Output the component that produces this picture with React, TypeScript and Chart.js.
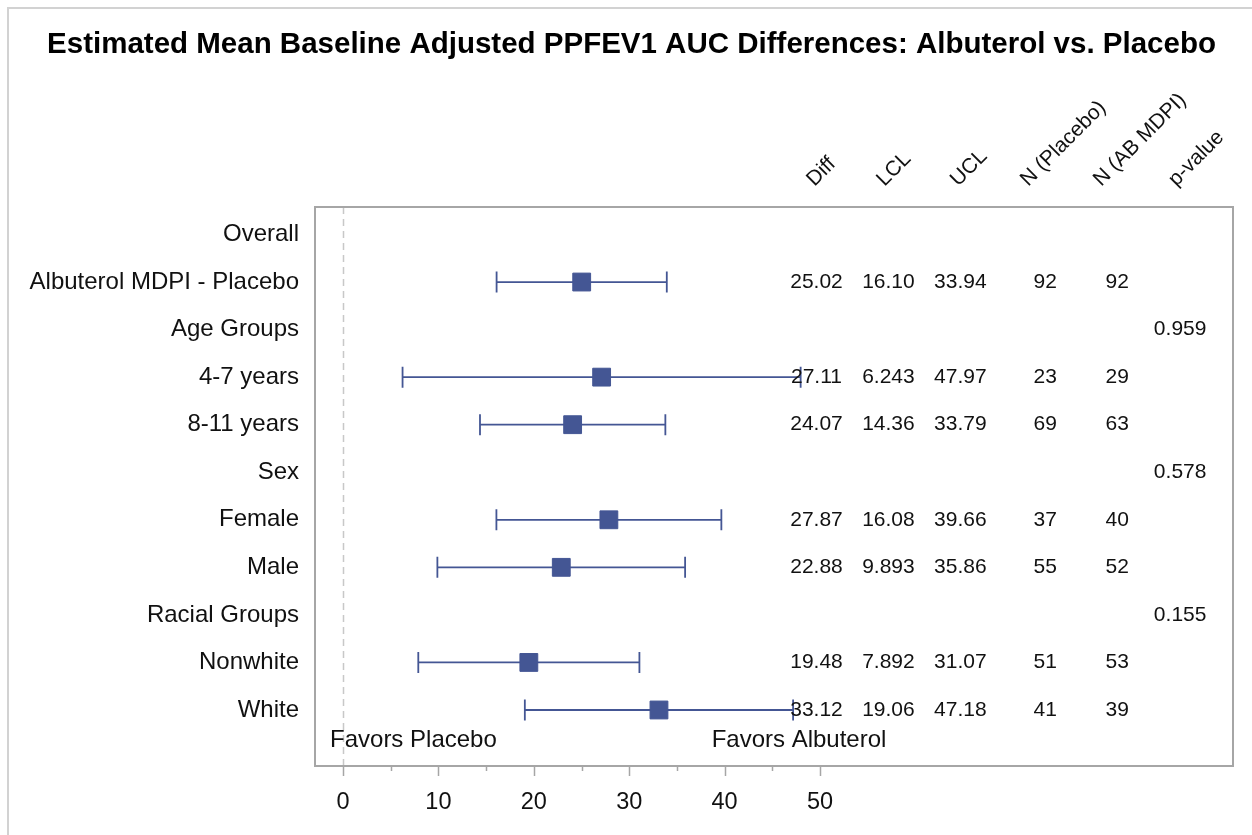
import React, { useEffect, useRef } from 'react';
import { Chart, registerables } from 'chart.js';

Chart.register(...registerables);

// ---------------- data ----------------
const TITLE = 'Estimated Mean Baseline Adjusted PPFEV1 AUC Differences: Albuterol vs. Placebo';
const rowLabels = [
  'Overall',
  'Albuterol MDPI - Placebo',
  'Age Groups',
  '4-7 years',
  '8-11 years',
  'Sex',
  'Female',
  'Male',
  'Racial Groups',
  'Nonwhite',
  'White',
];
const diff = [null, 25.02, null, 27.11, 24.07, null, 27.87, 22.88, null, 19.48, 33.12];
const lcl = [null, 16.1, null, 6.243, 14.36, null, 16.08, 9.893, null, 7.892, 19.06];
const ucl = [null, 33.94, null, 47.97, 33.79, null, 39.66, 35.86, null, 31.07, 47.18];
const nPlacebo = [null, 92, null, 23, 69, null, 37, 55, null, 51, 41];
const nAB = [null, 92, null, 29, 63, null, 40, 52, null, 53, 39];
const pValues = ['', '', '0.959', '', '', '0.578', '', '', '0.155', '', ''];
const columnHeaders = ['Diff', 'LCL', 'UCL', 'N (Placebo)', 'N (AB MDPI)', 'p-value'];
const xTicks = [0, 10, 20, 30, 40, 50];
const xMinorTicks = [5, 15, 25, 35, 45];
const favorsLabels = ['Favors Placebo', 'Favors Albuterol'];

// ---------------- layout / style ----------------
const FONT = '"Liberation Sans", Arial, Helvetica, sans-serif';
const W = 1252;
const H = 835;
const X_MIN = -2.935;
const X_MAX = 93.29;
const Y_MIN = -0.578;
const Y_MAX = 11.178;
const COL_CENTER = [49.63, 57.17, 64.71, 73.61, 81.15, 87.75];
const HEADER_X = [49.42, 56.75, 64.5, 71.83, 79.48, 87.33];
const HEADER_Y = -1.0;
const FAVORS_X = [-1.36, 38.64];
const FAVORS_Y = 10.63;
const BLUE = '#445694';
const TEXT = '#111111';

const fmt4 = (v: number | null) => (v == null ? '' : Number(v).toPrecision(4));
const fmtN = (v: number | null) => (v == null ? '' : String(v));

const tableColumns: string[][] = [
  diff.map(fmt4),
  lcl.map(fmt4),
  ucl.map(fmt4),
  nPlacebo.map(fmtN),
  nAB.map(fmtN),
  pValues,
];

const forestPlugin = {
  id: 'forestPlugin',
  beforeDraw(chart: any) {
    const ctx = chart.ctx;
    ctx.save();
    ctx.fillStyle = '#ffffff';
    ctx.fillRect(0, 0, chart.width, chart.height);
    // outer frame (top/left visible)
    ctx.strokeStyle = '#d2d2d2';
    ctx.lineWidth = 2;
    ctx.beginPath();
    ctx.moveTo(8, chart.height);
    ctx.lineTo(8, 8);
    ctx.lineTo(chart.width, 8);
    ctx.stroke();
    ctx.restore();
  },
  beforeDatasetsDraw(chart: any) {
    const ctx = chart.ctx;
    const xs = chart.scales.x;
    const ys = chart.scales.y;
    const area = chart.chartArea;
    ctx.save();
    // reference line at 0
    ctx.strokeStyle = '#c8c8c8';
    ctx.lineWidth = 1.5;
    ctx.setLineDash([7, 5]);
    const x0 = Math.round(xs.getPixelForValue(0)) + 0.5;
    ctx.beginPath();
    ctx.moveTo(x0, area.top);
    ctx.lineTo(x0, area.bottom);
    ctx.stroke();
    ctx.setLineDash([]);
    // error bars
    ctx.strokeStyle = BLUE;
    ctx.lineWidth = 1.8;
    for (let i = 0; i < rowLabels.length; i++) {
      if (lcl[i] == null || ucl[i] == null) continue;
      const y = ys.getPixelForValue(i);
      const xl = xs.getPixelForValue(lcl[i]);
      const xu = xs.getPixelForValue(ucl[i]);
      ctx.beginPath();
      ctx.moveTo(xl, y);
      ctx.lineTo(xu, y);
      ctx.moveTo(xl, y - 10.5);
      ctx.lineTo(xl, y + 10.5);
      ctx.moveTo(xu, y - 10.5);
      ctx.lineTo(xu, y + 10.5);
      ctx.stroke();
    }
    ctx.restore();
  },
  afterDraw(chart: any) {
    const ctx = chart.ctx;
    const xs = chart.scales.x;
    const ys = chart.scales.y;
    const area = chart.chartArea;
    ctx.save();
    // plot box
    ctx.strokeStyle = '#a6a6a6';
    ctx.lineWidth = 2;
    ctx.strokeRect(area.left, area.top, area.right - area.left, area.bottom - area.top);
    // x ticks
    ctx.strokeStyle = '#a6a6a6';
    ctx.lineWidth = 1.5;
    ctx.beginPath();
    for (const v of xTicks) {
      const x = Math.round(xs.getPixelForValue(v)) + 0.5;
      ctx.moveTo(x, area.bottom);
      ctx.lineTo(x, area.bottom + 10);
    }
    for (const v of xMinorTicks) {
      const x = Math.round(xs.getPixelForValue(v)) + 0.5;
      ctx.moveTo(x, area.bottom);
      ctx.lineTo(x, area.bottom + 5);
    }
    ctx.stroke();

    // title
    ctx.fillStyle = '#000000';
    ctx.font = `bold 29.5px ${FONT}`;
    ctx.textAlign = 'center';
    ctx.textBaseline = 'alphabetic';
    ctx.fillText(TITLE, 631.5, 53);

    // column headers (rotated)
    ctx.fillStyle = TEXT;
    ctx.font = `21px ${FONT}`;
    ctx.textAlign = 'left';
    ctx.textBaseline = 'alphabetic';
    columnHeaders.forEach((h, c) => {
      const x = xs.getPixelForValue(HEADER_X[c]);
      const y = ys.getPixelForValue(HEADER_Y);
      ctx.save();
      ctx.translate(x, y);
      ctx.rotate(-Math.PI / 4);
      ctx.fillText(h, 0, 0);
      ctx.restore();
    });

    // table values
    ctx.font = `21px ${FONT}`;
    ctx.textAlign = 'center';
    ctx.textBaseline = 'middle';
    tableColumns.forEach((col, c) => {
      const x = xs.getPixelForValue(COL_CENTER[c]);
      col.forEach((txt, i) => {
        if (!txt) return;
        ctx.fillText(txt, x, ys.getPixelForValue(i));
      });
    });

    // favors labels
    ctx.font = `24px ${FONT}`;
    ctx.textAlign = 'left';
    ctx.textBaseline = 'middle';
    favorsLabels.forEach((t, k) => {
      ctx.fillText(t, xs.getPixelForValue(FAVORS_X[k]), ys.getPixelForValue(FAVORS_Y));
    });
    ctx.restore();
  },
};

export default function App() {
  const ref = useRef<HTMLCanvasElement | null>(null);
  useEffect(() => {
    if (!ref.current) return;
    const points = rowLabels
      .map((_, i) => (diff[i] == null ? null : { x: diff[i] as number, y: i }))
      .filter((p) => p !== null);
    const chart = new Chart(ref.current, {
      type: 'scatter',
      data: {
        datasets: [
          {
            label: 'Diff',
            data: points as any,
            pointStyle: 'rect',
            pointRadius: 12.6,
            pointHoverRadius: 12.6,
            backgroundColor: BLUE,
            borderColor: BLUE,
            borderWidth: 1,
          },
        ],
      },
      options: {
        responsive: false,
        animation: false,
        devicePixelRatio: 1,
        layout: { padding: { left: 11, right: W - 1233, top: 207, bottom: 0 } },
        plugins: {
          legend: { display: false },
          tooltip: { enabled: false },
          title: { display: false },
        },
        scales: {
          x: {
            type: 'linear',
            min: X_MIN,
            max: X_MAX,
            afterBuildTicks: (s: any) => {
              s.ticks = xTicks.map((v) => ({ value: v }));
            },
            afterFit: (s: any) => {
              s.height = H - 766;
            },
            grid: { display: false, drawTicks: false },
            border: { display: false },
            ticks: {
              autoSkip: false,
              maxRotation: 0,
              padding: 22,
              color: TEXT,
              font: { family: FONT, size: 23.5 },
              callback: (v: any) => String(v),
            },
          },
          y: {
            type: 'linear',
            reverse: true,
            min: Y_MIN,
            max: Y_MAX,
            afterBuildTicks: (s: any) => {
              s.ticks = rowLabels.map((_, i) => ({ value: i }));
            },
            afterFit: (s: any) => {
              s.width = 315 - 11;
            },
            grid: { display: false, drawTicks: false },
            border: { display: false },
            ticks: {
              autoSkip: false,
              padding: 16,
              color: TEXT,
              font: { family: FONT, size: 24 },
              callback: (v: any) => rowLabels[v as number] ?? '',
            },
          },
        },
      },
      plugins: [forestPlugin],
    });
    return () => chart.destroy();
  }, []);
  return (
    <div style={{ position: 'absolute', left: 0, top: 0, width: W, height: H, background: '#fff' }}>
      <canvas ref={ref} width={W} height={H} style={{ display: 'block' }} />
    </div>
  );
}
